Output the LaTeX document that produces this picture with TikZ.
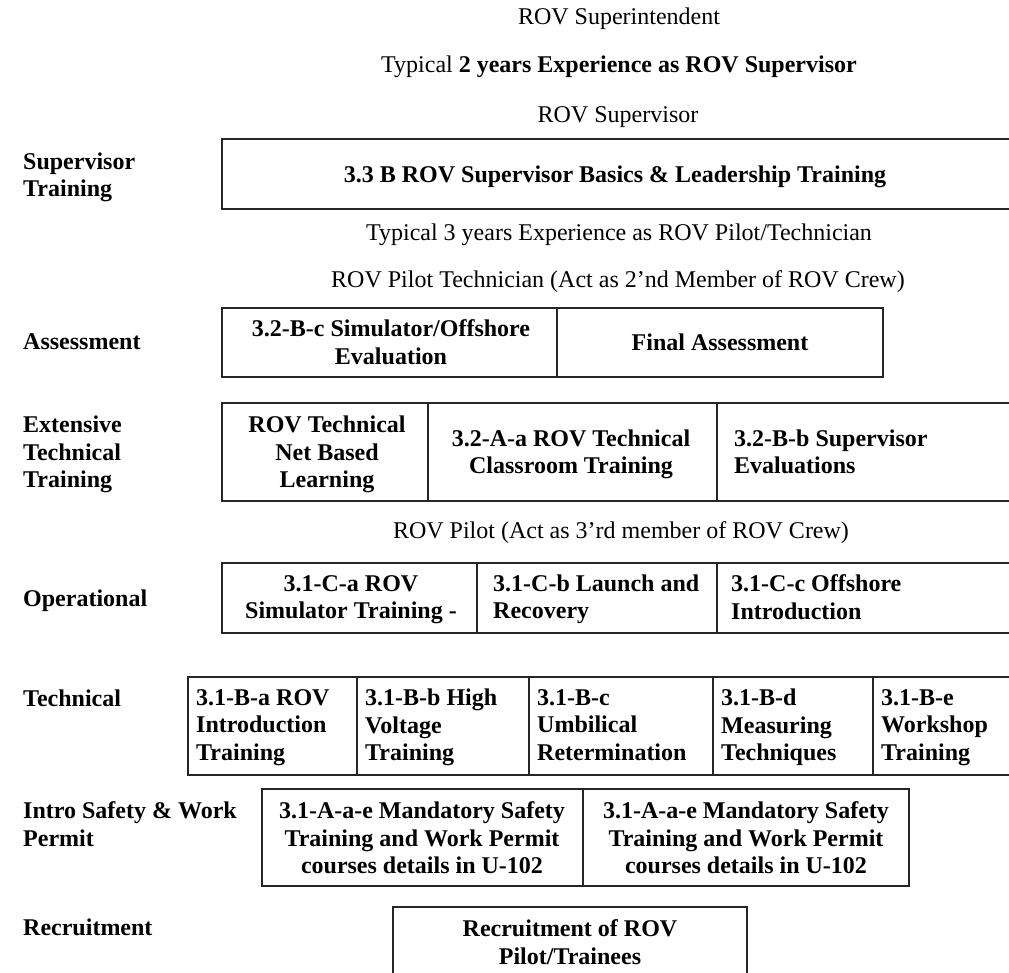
\documentclass[tikz,border=0pt]{standalone}
\usepackage{fontspec}
\setmainfont{Liberation Serif}
\newcommand\rowfont{\fontsize{24}{27.5}\selectfont}

\begin{document}
\begin{tikzpicture}[x=1pt,y=-1pt,
  title/.style={inner sep=0pt,font=\rowfont},
  rowlbl/.style={anchor=west,align=left,inner sep=0pt,text depth=0.22em,font=\rowfont\bfseries},
  cell/.style={align=center,inner sep=0pt,text depth=0.22em,font=\rowfont\bfseries},
  lcell/.style={anchor=west,align=left,inner sep=0pt,text depth=0.22em,font=\rowfont\bfseries},
  frame/.style={line width=1.5pt,black!85}]
\useasboundingbox (0,0) rectangle (1009,973);

\node[title] (superint) at (619,19) {ROV Superintendent};
\node[title] (exptwo) at (619,67) {Typical \textbf{2 years Experience as ROV Supervisor}};
\node[title] (supv) at (618,117) {ROV Supervisor};

\draw[frame] (1009,139) -| (222,209) -- (1009,209);
\node[cell] (supbasics) at (615,175) {3.3 B ROV Supervisor Basics \& Leadership Training};
\node[rowlbl] (lblsup) at (23,176) {Supervisor\\Training};

\node[title] (expthree) at (619,235) {Typical 3 years Experience as ROV Pilot/Technician};
\node[title] (pilottech) at (618,282) {ROV Pilot Technician (Act as 2’nd Member of ROV Crew)};

\draw[frame] (222,308) rectangle (883,377);
\draw[frame] (557,308) -- (557,377);
\node[cell] (simeval) at (391,343) {3.2-B-c Simulator/Offshore\\Evaluation};
\node[cell] (finalass) at (720,343) {Final Assessment};
\node[rowlbl] (lblass) at (23,343) {Assessment};

\draw[frame] (1009,403) -| (222,501) -- (1009,501);
\draw[frame] (428,403) -- (428,501);
\draw[frame] (717,403) -- (717,501);
\node[cell] (netbased) at (327,453) {ROV Technical\\Net Based\\Learning};
\node[cell] (classroom) at (571,453) {3.2-A-a ROV Technical\\Classroom Training};
\node[lcell] (supeval) at (734,453) {3.2-B-b Supervisor\\Evaluations};
\node[rowlbl] (lblext) at (23,453) {Extensive\\Technical\\Training};

\node[title] (pilot) at (621,533) {ROV Pilot (Act as 3’rd member of ROV Crew)};

\draw[frame] (1009,563) -| (222,633) -- (1009,633);
\draw[frame] (477,563) -- (477,633);
\draw[frame] (717,563) -- (717,633);
\node[cell] (simtrain) at (351,598) {3.1-C-a ROV\\Simulator Training -};
\node[lcell] (launch) at (493,598) {3.1-C-b Launch and\\Recovery};
\node[lcell] (offintro) at (731,598) {3.1-C-c Offshore\\Introduction};
\node[rowlbl] (lblop) at (23,599) {Operational};

\draw[frame] (1009,677) -| (188,775) -- (1009,775);
\draw[frame] (357,677) -- (357,775);
\draw[frame] (529,677) -- (529,775);
\draw[frame] (713,677) -- (713,775);
\draw[frame] (873,677) -- (873,775);
\node[lcell] (introtrain) at (196,726) {3.1-B-a ROV\\Introduction\\Training};
\node[lcell] (highvolt) at (365,726) {3.1-B-b High\\Voltage\\Training};
\node[lcell] (umbilical) at (537,726) {3.1-B-c\\Umbilical\\Retermination};
\node[lcell] (measuring) at (721,726) {3.1-B-d\\Measuring\\Techniques};
\node[lcell] (workshop) at (881,726) {3.1-B-e\\Workshop\\Training};
\node[rowlbl] (lbltech) at (23,699) {Technical};

\draw[frame] (262,789) rectangle (909,886);
\draw[frame] (583,789) -- (583,886);
\node[cell] (safetyA) at (422,839) {3.1-A-a-e Mandatory Safety\\Training and Work Permit\\courses details in U-102};
\node[cell] (safetyB) at (746,839) {3.1-A-a-e Mandatory Safety\\Training and Work Permit\\courses details in U-102};
\node[rowlbl] (lblsafe) at (23,825) {Intro Safety \& Work\\Permit};

\draw[frame] (393,973) |- (747,907) -- (747,973);
\node[cell] (recruit) at (570,943) {Recruitment of ROV\\Pilot/Trainees};
\node[rowlbl] (lblrec) at (23,928) {Recruitment};
\end{tikzpicture}
\end{document}
